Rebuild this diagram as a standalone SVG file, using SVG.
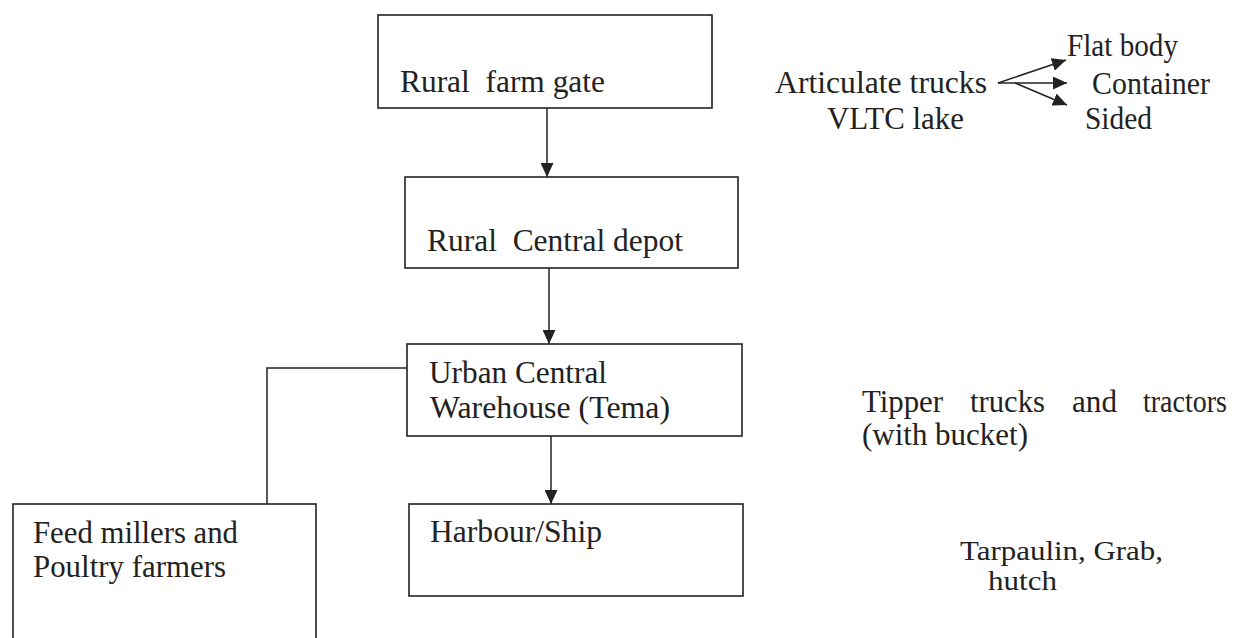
<svg xmlns="http://www.w3.org/2000/svg" width="1239" height="638" viewBox="0 0 1239 638">
<style>
.box{fill:none;stroke:#222;stroke-width:1.6}
.ln{fill:none;stroke:#222;stroke-width:1.5}
text{font-family:"Liberation Serif","Times New Roman",serif;font-size:31px;fill:#222}
.sm{font-size:27px}
</style>
<defs>
<marker id="ah" viewBox="0 0 14 13" refX="14" refY="6.5" markerWidth="14" markerHeight="13" markerUnits="userSpaceOnUse" orient="auto">
<path d="M0,0 L14,6.5 L0,13 Z" fill="#222"/>
</marker>
</defs>
<rect width="1239" height="638" fill="#fff"/>
<g id="n1"><rect class="box" x="378" y="15" width="334" height="93"/><text x="400" y="92" textLength="205" lengthAdjust="spacingAndGlyphs" xml:space="preserve">Rural  farm gate</text></g>
<g id="n2"><rect class="box" x="405" y="177" width="333" height="91"/><text x="427" y="251" textLength="256" lengthAdjust="spacingAndGlyphs" xml:space="preserve">Rural  Central depot</text></g>
<g id="n3"><rect class="box" x="407" y="344" width="335" height="92"/><text x="429" y="383" textLength="178" lengthAdjust="spacingAndGlyphs">Urban Central</text><text x="430" y="418" textLength="240" lengthAdjust="spacingAndGlyphs">Warehouse (Tema)</text></g>
<g id="n4"><rect class="box" x="13" y="504" width="303" height="150"/><text x="33" y="543" textLength="205" lengthAdjust="spacingAndGlyphs">Feed millers and</text><text x="33" y="577" textLength="193" lengthAdjust="spacingAndGlyphs">Poultry farmers</text></g>
<g id="n5"><rect class="box" x="409" y="504" width="334" height="92"/><text x="430" y="542" textLength="172" lengthAdjust="spacingAndGlyphs">Harbour/Ship</text></g>
<g id="connectors">
<line class="ln" x1="547" y1="108" x2="547" y2="177" marker-end="url(#ah)"/>
<line class="ln" x1="549" y1="268" x2="549" y2="344" marker-end="url(#ah)"/>
<line class="ln" x1="551" y1="436" x2="551" y2="504" marker-end="url(#ah)"/>
<polyline class="ln" points="407,368 267,368 267,504"/>
<line class="ln" x1="998" y1="83" x2="1066" y2="60" marker-end="url(#ah)"/>
<line class="ln" x1="998" y1="83" x2="1067" y2="83" marker-end="url(#ah)"/>
<line class="ln" x1="1015" y1="83" x2="1067" y2="105" marker-end="url(#ah)"/>
</g>
<g id="notes">
<text x="775" y="93" textLength="212" lengthAdjust="spacingAndGlyphs">Articulate trucks</text>
<text x="827" y="129" textLength="137" lengthAdjust="spacingAndGlyphs">VLTC lake</text>
<text x="1067" y="56" textLength="111" lengthAdjust="spacingAndGlyphs">Flat body</text>
<text x="1092" y="94" textLength="118" lengthAdjust="spacingAndGlyphs">Container</text>
<text x="1085" y="129" textLength="67" lengthAdjust="spacingAndGlyphs">Sided</text>
<text x="862" y="412" textLength="81" lengthAdjust="spacingAndGlyphs">Tipper</text>
<text x="970" y="412" textLength="75" lengthAdjust="spacingAndGlyphs">trucks</text>
<text x="1072" y="412" textLength="45" lengthAdjust="spacingAndGlyphs">and</text>
<text x="1143" y="412" textLength="84" lengthAdjust="spacingAndGlyphs">tractors</text>
<text x="862" y="445" textLength="166" lengthAdjust="spacingAndGlyphs">(with bucket)</text>
<text class="sm" x="960" y="560" textLength="203" lengthAdjust="spacingAndGlyphs">Tarpaulin, Grab,</text>
<text class="sm" x="988" y="590" textLength="69" lengthAdjust="spacingAndGlyphs">hutch</text>
</g>
</svg>
